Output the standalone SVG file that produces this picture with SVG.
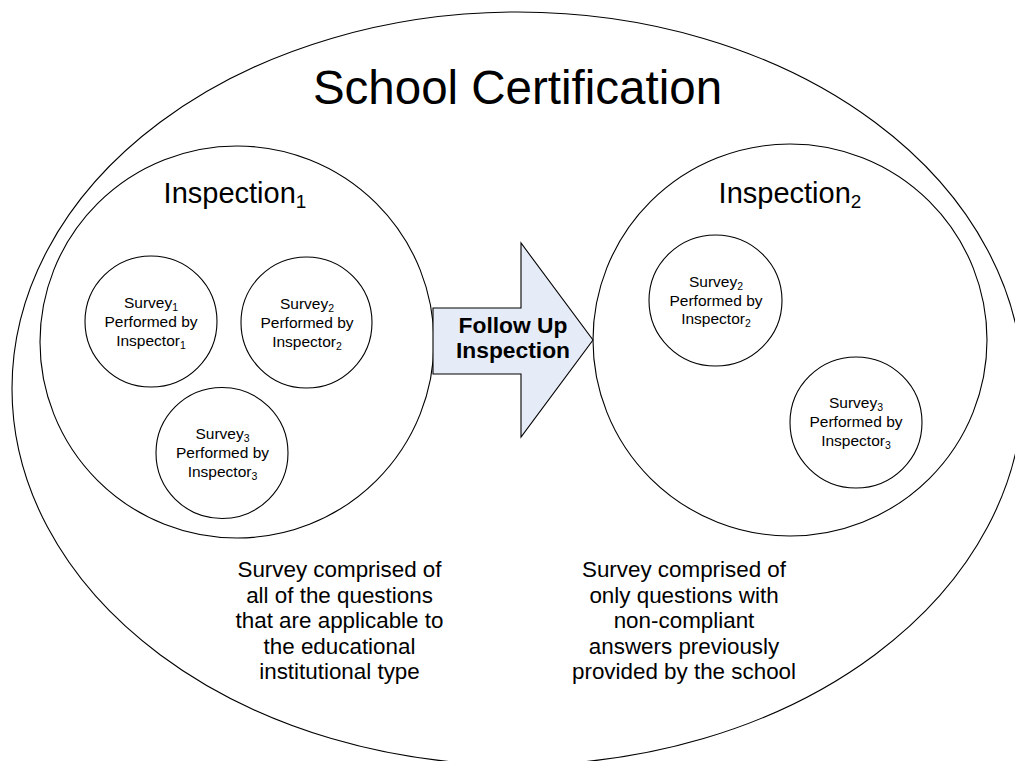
<svg xmlns="http://www.w3.org/2000/svg" width="1015" height="761" viewBox="0 0 1015 761">
<style>
.ln{fill:#fff;stroke:#000;stroke-width:1.1}
.t{font-family:"Liberation Sans",Arial,sans-serif;fill:#000;text-anchor:middle}
.sm{font-size:15.5px}
.sub{font-size:10.5px}
.mid{font-size:22.4px}
</style>
<rect width="1015" height="761" fill="#fff"/>
<g id="school-certification">
<ellipse class="ln" cx="517.5" cy="388.5" rx="505.5" ry="376.5"/>
<text class="t" x="517.5" y="104" font-size="47.5">School Certification</text>
</g>
<g id="inspection1">
<ellipse class="ln" cx="237" cy="342" rx="197" ry="196"/>
<text class="t" x="235" y="203" font-size="29">Inspection<tspan font-size="19" dy="5">1</tspan></text>
</g>
<g id="inspection2">
<ellipse class="ln" cx="790" cy="340" rx="197" ry="196"/>
<text class="t" x="790" y="203" font-size="29">Inspection<tspan font-size="19" dy="5">2</tspan></text>
</g>
<g id="connectors">
<g id="follow-up-arrow">
<polygon points="433,308 521,308 521,243 593,340 521,437 521,374 433,374" fill="#e6ecf7" stroke="#000" stroke-width="1.1" stroke-linejoin="miter"/>
<text class="t" font-weight="bold" font-size="22.8"><tspan x="513" y="333">Follow Up</tspan><tspan x="513" y="358">Inspection</tspan></text>
</g>
</g>
<g id="i1-survey1">
<ellipse class="ln" cx="151" cy="321.5" rx="66" ry="65.5"/>
<text class="t sm"><tspan x="151" y="308">Survey</tspan><tspan class="sub" dy="3">1</tspan><tspan x="151" y="327">Performed by</tspan><tspan x="151" y="346">Inspector</tspan><tspan class="sub" dy="3">1</tspan></text>
</g>
<g id="i1-survey2">
<ellipse class="ln" cx="306.5" cy="322.5" rx="65.5" ry="65.5"/>
<text class="t sm"><tspan x="307" y="309">Survey</tspan><tspan class="sub" dy="3">2</tspan><tspan x="307" y="328">Performed by</tspan><tspan x="307" y="347">Inspector</tspan><tspan class="sub" dy="3">2</tspan></text>
</g>
<g id="i1-survey3">
<ellipse class="ln" cx="222" cy="453" rx="66" ry="65.5"/>
<text class="t sm"><tspan x="222.5" y="439">Survey</tspan><tspan class="sub" dy="3">3</tspan><tspan x="222.5" y="458">Performed by</tspan><tspan x="222.5" y="477">Inspector</tspan><tspan class="sub" dy="3">3</tspan></text>
</g>
<g id="i2-survey2">
<ellipse class="ln" cx="715.5" cy="300.5" rx="66.5" ry="65.5"/>
<text class="t sm"><tspan x="716" y="287">Survey</tspan><tspan class="sub" dy="3">2</tspan><tspan x="716" y="305.5">Performed by</tspan><tspan x="716" y="324">Inspector</tspan><tspan class="sub" dy="3">2</tspan></text>
</g>
<g id="i2-survey3">
<ellipse class="ln" cx="856" cy="422.5" rx="66" ry="65.5"/>
<text class="t sm"><tspan x="856" y="408">Survey</tspan><tspan class="sub" dy="3">3</tspan><tspan x="856" y="427">Performed by</tspan><tspan x="856" y="446">Inspector</tspan><tspan class="sub" dy="3">3</tspan></text>
</g>
<g id="note-inspection1">
<text class="t mid"><tspan x="339.5" y="577">Survey comprised of</tspan><tspan x="339.5" y="602.5">all of the questions</tspan><tspan x="339.5" y="628">that are applicable to</tspan><tspan x="339.5" y="653.5">the educational</tspan><tspan x="339.5" y="679">institutional type</tspan></text>
</g>
<g id="note-inspection2">
<text class="t mid"><tspan x="684" y="577">Survey comprised of</tspan><tspan x="684" y="602.5">only questions with</tspan><tspan x="684" y="628">non-compliant</tspan><tspan x="684" y="653.5">answers previously</tspan><tspan x="684" y="679">provided by the school</tspan></text>
</g>
</svg>
